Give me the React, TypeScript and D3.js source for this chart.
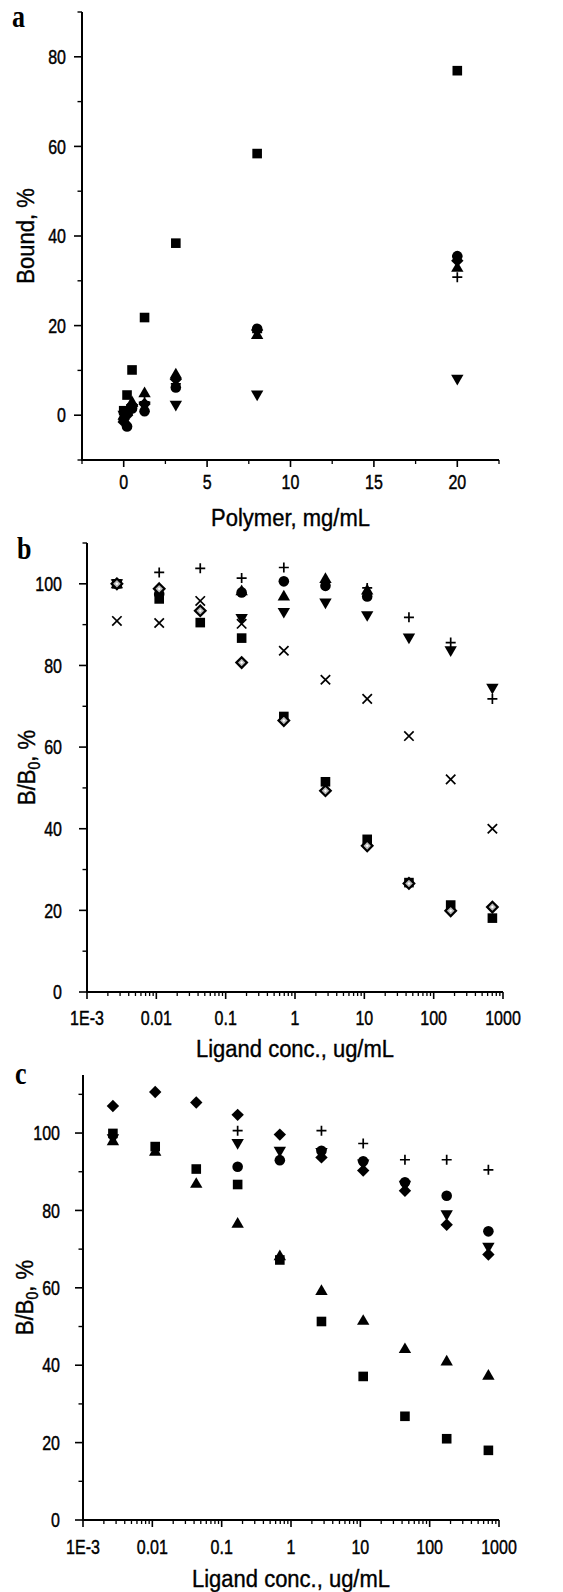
import React from "react";
import * as d3 from "d3";

// ---------- Panel a data ----------
const polymerA = [0, 0.2, 0.5, 1.25, 3.125, 8, 20];
const sqA = [1, 4.5, 10.1, 21.8, 38.4, 58.4, 76.9];
const ciA = [-1, -2.5, 1.5, 0.9, 6.2, 19.3, 35.5];
const trUpA = [0, 1, 3, 5, 9.2, 18, 33];
const trDnA = [0, 0.5, 1.5, 2, 2.2, 4.5, 8];
const diaA = [-1.5, 0, 2, 2.5, 8, 19, 34.5];
const plusA = [0.5, 1, 2.5, 3, 7, 18.5, 30.8];
const xTicksA = [0, 5, 10, 15, 20];
const xMinorA = [-2.5, 2.5, 7.5, 12.5, 17.5, 22.5];
const yTicksA = [0, 20, 40, 60, 80];
const yMinorA = [-10, 10, 30, 50, 70, 90];

// ---------- Panel b data ----------
const concB = [0.0027, 0.011, 0.043, 0.17, 0.69, 2.75, 11, 44, 176, 703];
const sqB = [100, 96.3, 90.5, 86.7, 67.5, 51.5, 37.4, 26.8, 21.3, 18.1];
const ciB = [100, 97.5, null, 97.9, 100.6, 99.5, 96.9, null, null, null];
const trUpB = [100, null, null, 98.3, 97, 101.3, 98.5, null, null, null];
const trDnB = [100, null, null, 91.5, 93, 95.3, 92.2, 86.7, 83.6, 74.4];
const plusB = [100, 102.8, 103.8, 101.4, 104, null, 99, 91.8, 85.6, 71.8];
const xB = [90.9, 90.4, 95.8, 90.2, 83.6, 76.5, 71.8, 62.7, 52.1, 40];
const diaB = [100, 98.8, 93.4, 80.7, 66.5, 49.3, 35.8, 26.6, 19.9, 20.8];

// ---------- Panel c data ----------
const concC = [0.0027, 0.011, 0.043, 0.17, 0.69, 2.75, 11, 44, 176, 703];
const diaC = [107, 110.6, 107.9, 104.7, 99.6, 93.7, 90.3, 85.1, 76.3, 68.6];
const sqC = [99.9, 96.5, 90.7, 86.7, 67.2, 51.3, 37.1, 26.8, 21, 18];
const trUpC = [98, 95.3, 87, 76.7, 68.3, 59.3, 51.6, 44.3, 41.1, 37.4];
const ciC = [null, null, null, 91.3, 93, 95.4, 92.7, 87.3, 83.8, 74.6];
const trDnC = [98.5, null, null, 97.3, 95.3, 95, 92, 86.5, 78.9, 70.5];
const plusC = [null, null, null, 100.6, null, 100.6, 97.3, 93.1, 93.1, 90.5];

const logTickLabels = ["1E-3", "0.01", "0.1", "1", "10", "100", "1000"];
const logTicks = [1e-3, 1e-2, 1e-1, 1, 10, 100, 1000];
const yTicksBC = [0, 20, 40, 60, 80, 100];
const yMinorB = [10, 30, 50, 70, 90, 110];
const yMinorC = [10, 30, 50, 70, 90, 110];

const FONT = "'Liberation Sans', Arial, Helvetica, sans-serif";
const TICK_FS = 16;
const TICK_SY = 1.25;
const TITLE_FS = 22;
const TITLE_SY = 1.12;
const TXT_STROKE = 0.35;

type Shape = "square" | "circle" | "triUp" | "triDown" | "diamond" | "plus" | "x" | "openDiamond";

function Marker({ shape, x, y }: { shape: Shape; x: number; y: number }) {
  const t = `translate(${x},${y})`;
  switch (shape) {
    case "square":
      return <rect x={x - 4.8} y={y - 4.8} width={9.6} height={9.6} fill="#000" />;
    case "circle":
      return <circle cx={x} cy={y} r={5.3} fill="#000" />;
    case "triUp":
      return <path transform={t} d="M0,-6.2L6.2,4.5L-6.2,4.5Z" fill="#000" />;
    case "triDown":
      return <path transform={t} d="M0,6.2L6.2,-4.5L-6.2,-4.5Z" fill="#000" />;
    case "diamond":
      return <path transform={t} d="M0,-6.2L6.2,0L0,6.2L-6.2,0Z" fill="#000" />;
    case "openDiamond":
      return (
        <g transform={t}>
          <path d="M0,-5.3L5.3,0L0,5.3L-5.3,0Z" fill="#bbb" stroke="#000" strokeWidth={2.2} />
          <path d="M0,-1.5L1.5,0L0,1.5L-1.5,0Z" fill="#fff" />
        </g>
      );
    case "plus":
      return <path transform={t} d="M-5,0H5M0,-5V5" stroke="#000" strokeWidth={1.7} fill="none" />;
    case "x":
      return <path transform={t} d="M-4.7,-4.7L4.7,4.7M-4.7,4.7L4.7,-4.7" stroke="#000" strokeWidth={1.7} fill="none" />;
  }
  return null;
}

type Series = { shape: Shape; values: (number | null)[] };

function Panel(props: {
  letter: string;
  letterX: number;
  letterY: number;
  left: number;
  right: number;
  top: number;
  bottom: number;
  xScale: any;
  yScale: any;
  xs: number[];
  series: Series[];
  xMajor: number[];
  xLabels: string[];
  xMinor: number[];
  yMajor: number[];
  yMinor: number[];
  yLabelRight: number;
  xLabelY: number;
  xTitle: string;
  xTitleY: number;
  yTitle: React.ReactNode;
  yTitleX: number;
}) {
  const { left, right, top, bottom, xScale, yScale, xs, series } = props;
  const cx = (left + right) / 2;
  const cy = (top + bottom) / 2;
  return (
    <g>
      <g transform={`translate(${props.letterX},${props.letterY}) scale(1,1.2)`}>
        <text fontFamily="'Liberation Serif', 'Times New Roman', serif" fontWeight="bold" fontSize={26}>
          {props.letter}
        </text>
      </g>
      {/* axes */}
      <line x1={left} x2={left} y1={top} y2={bottom + 1} stroke="#000" strokeWidth={2} />
      <line x1={left - 1} x2={right} y1={bottom} y2={bottom} stroke="#000" strokeWidth={2} />
      {props.yMajor.map((v) => (
        <g key={"ym" + v}>
          <line x1={left - 8} x2={left} y1={yScale(v)} y2={yScale(v)} stroke="#000" strokeWidth={1.6} />
          <g transform={`translate(${props.yLabelRight},${yScale(v)}) scale(1,${TICK_SY})`}>
            <text dy="0.36em" textAnchor="end" fontFamily={FONT} fontSize={TICK_FS} stroke="#000" strokeWidth={TXT_STROKE}>
              {v}
            </text>
          </g>
        </g>
      ))}
      {props.yMinor.map((v) => (
        <line key={"yn" + v} x1={left - 4.5} x2={left} y1={yScale(v)} y2={yScale(v)} stroke="#000" strokeWidth={1.4} />
      ))}
      {props.xMajor.map((v, i) => (
        <g key={"xm" + v}>
          <line x1={xScale(v)} x2={xScale(v)} y1={bottom} y2={bottom + 7} stroke="#000" strokeWidth={1.6} />
          <g transform={`translate(${xScale(v)},${props.xLabelY}) scale(1,${TICK_SY})`}>
            <text dy="0.36em" textAnchor="middle" fontFamily={FONT} fontSize={TICK_FS} stroke="#000" strokeWidth={TXT_STROKE}>
              {props.xLabels[i]}
            </text>
          </g>
        </g>
      ))}
      {props.xMinor.map((v, i) => (
        <line key={"xn" + i} x1={xScale(v)} x2={xScale(v)} y1={bottom} y2={bottom + 4} stroke="#000" strokeWidth={1.3} />
      ))}
      <g transform={`translate(${cx},${props.xTitleY}) scale(1,${TITLE_SY})`}>
        <text dy="0.36em" textAnchor="middle" fontFamily={FONT} fontSize={TITLE_FS} stroke="#000" strokeWidth={TXT_STROKE}>
          {props.xTitle}
        </text>
      </g>
      <g transform={`translate(${props.yTitleX},${cy}) rotate(-90) scale(1,${TITLE_SY})`}>
        <text textAnchor="middle" dy="0.36em" fontFamily={FONT} fontSize={TITLE_FS} stroke="#000" strokeWidth={TXT_STROKE}>
          {props.yTitle}
        </text>
      </g>
      {series.map((s, si) => (
        <g key={"s" + si}>
          {s.values.map((v, i) =>
            v === null ? null : <Marker key={i} shape={s.shape} x={xScale(xs[i])} y={yScale(v)} />
          )}
        </g>
      ))}
    </g>
  );
}

function logMinor(): number[] {
  const out: number[] = [];
  for (let e = -3; e < 3; e++) {
    for (let k = 2; k <= 9; k++) out.push(k * Math.pow(10, e));
  }
  return out;
}

export default function App() {
  const xa = d3.scaleLinear().domain([-2.5, 22.5]).range([82, 499]);
  const ya = d3.scaleLinear().domain([-10, 90]).range([460, 12]);
  const xb = d3.scaleLog().domain([1e-3, 1e3]).range([87, 503]);
  const yb = d3.scaleLinear().domain([0, 110]).range([992, 543]);
  const xc = d3.scaleLog().domain([1e-3, 1e3]).range([83, 499]);
  const yc = d3.scaleLinear().domain([0, 115]).range([1520, 1075]);
  const minor = logMinor();

  const b0 = (
    <>
      B/B<tspan fontSize={14} dy="5">0</tspan>
      <tspan dy="-5">, %</tspan>
    </>
  );

  return (
    <svg
      width={563}
      height={1592}
      viewBox="0 0 563 1592"
      style={{ position: "absolute", left: 0, top: 0, background: "#fff" }}
    >
      <rect width={563} height={1592} fill="#fff" />
      <Panel
        letter="a" letterX={12} letterY={27}
        left={82} right={499} top={12} bottom={460}
        xScale={xa} yScale={ya} xs={polymerA}
        series={[
          { shape: "square", values: sqA },
          { shape: "circle", values: ciA },
          { shape: "diamond", values: diaA },
          { shape: "triUp", values: trUpA },
          { shape: "triDown", values: trDnA },
          { shape: "plus", values: plusA },
        ]}
        xMajor={xTicksA} xLabels={xTicksA.map(String)} xMinor={xMinorA}
        yMajor={yTicksA} yMinor={yMinorA}
        yLabelRight={66} xLabelY={482}
        xTitle="Polymer, mg/mL" xTitleY={517}
        yTitle="Bound, %" yTitleX={25}
      />
      <Panel
        letter="b" letterX={17} letterY={559}
        left={87} right={503} top={543} bottom={992}
        xScale={xb} yScale={yb} xs={concB}
        series={[
          { shape: "square", values: sqB },
          { shape: "circle", values: ciB },
          { shape: "triUp", values: trUpB },
          { shape: "triDown", values: trDnB },
          { shape: "plus", values: plusB },
          { shape: "x", values: xB },
          { shape: "openDiamond", values: diaB },
        ]}
        xMajor={logTicks} xLabels={logTickLabels} xMinor={minor}
        yMajor={yTicksBC} yMinor={yMinorB}
        yLabelRight={62} xLabelY={1018}
        xTitle="Ligand conc., ug/mL" xTitleY={1048}
        yTitle={b0} yTitleX={26}
      />
      <Panel
        letter="c" letterX={15} letterY={1084}
        left={83} right={499} top={1075} bottom={1520}
        xScale={xc} yScale={yc} xs={concC}
        series={[
          { shape: "diamond", values: diaC },
          { shape: "square", values: sqC },
          { shape: "triUp", values: trUpC },
          { shape: "circle", values: ciC },
          { shape: "triDown", values: trDnC },
          { shape: "plus", values: plusC },
        ]}
        xMajor={logTicks} xLabels={logTickLabels} xMinor={minor}
        yMajor={yTicksBC} yMinor={yMinorC}
        yLabelRight={60} xLabelY={1547}
        xTitle="Ligand conc., ug/mL" xTitleY={1578}
        yTitle={b0} yTitleX={24}
      />
    </svg>
  );
}
